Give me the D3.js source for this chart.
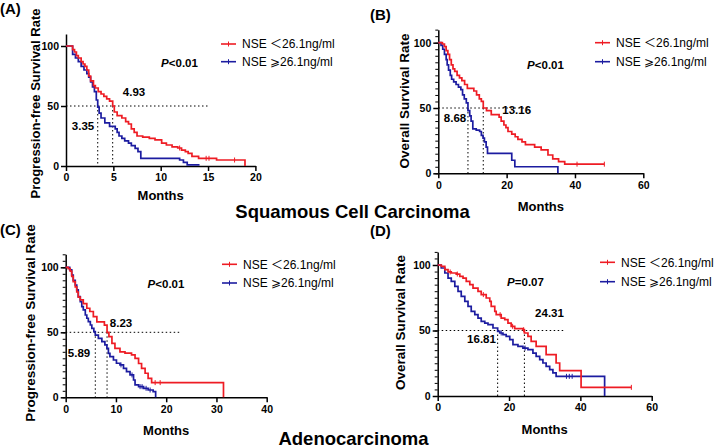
<!DOCTYPE html>
<html><head><meta charset="utf-8">
<script src="https://cdn.jsdelivr.net/npm/d3@7"></script>
<style>
html,body{margin:0;padding:0;background:#fff;}
svg{display:block;}
text{font-family:"Liberation Sans",Arial,"Noto Sans CJK SC",sans-serif;fill:#000;}
</style></head><body>
<svg id="chart" width="720" height="448"></svg>
<script>
// ---------- data ----------
const seriesNames = ["NSE \uFF1C26.1ng/ml", "NSE \u2A7E26.1ng/ml"];
const panelLetters = ["(A)", "(B)", "(C)", "(D)"];
const yTitles = ["Progression-free Survival Rate", "Overall Survival Rate", "Progression-free Survival Rate", "Overall Survival Rate"];
const xTitle = "Months";
const pLabels = [["P", "<0.01"], ["P", "<0.01"], ["P", "<0.01"], ["P", "=0.07"]];
const groupTitles = ["Squamous Cell Carcinoma", "Adenocarcinoma"];
const xTicksA = [0, 5, 10, 15, 20];
const xTicksB = [0, 20, 40, 60];
const xTicksC = [0, 10, 20, 30, 40];
const xTicksD = [0, 20, 40, 60];
const yTicks = [0, 50, 100];
const mediansA = [3.35, 4.93];
const mediansB = [8.68, 13.16];
const mediansC = [5.89, 8.23];
const mediansD = [16.81, 24.31];
const medianRefEnd = [15, 26.8, 22.7, 35.4];

// steps: [month, survival % after drop]; *End = last follow-up time
const aLow = [[0.7,97],[0.9,95],[1.1,92],[1.3,90],[1.6,87],[1.8,85],[2.0,83],[2.2,80],[2.4,75],[2.6,71],[2.9,67],[3.1,65],[3.4,62],[3.7,60],[4.0,58],[4.3,56],[4.6,54],[4.93,50],[5.1,45],[5.4,42],[5.9,40],[6.3,37],[6.6,35],[6.9,31],[7.2,28],[7.5,25],[8.1,24],[8.8,23],[9.4,21.7],[10.1,19],[10.6,17.5],[11.2,16],[11.8,15],[12.2,13.3],[12.6,12],[12.9,10.6],[13.3,8],[14.0,6.4],[15.9,5],[18.9,0]];
const aLowEnd = 18.9;
const aLowCensor = [12.0, 14.8, 15.1, 17.8];
const aHigh = [[0.7,93],[1.0,90],[1.3,87],[1.6,83],[1.9,80],[2.2,77],[2.4,74],[2.6,70],[2.8,66],[3.0,62],[3.2,55],[3.35,49],[3.5,44],[3.7,40],[4.1,36],[4.6,33],[5.2,31],[5.4,28],[5.6,25],[5.9,23],[6.2,21],[6.6,19],[6.9,17],[7.3,14.7],[7.6,12],[7.9,6.4],[12.0,5],[12.4,3],[12.8,1]];
const aHighEnd = 14.1;
const aHighCensor = [];

const bLow = [[1.2,99],[1.8,97],[2.3,94],[2.8,91],[3.3,87],[3.8,83],[4.3,80],[4.8,78],[5.5,75],[6.2,73],[6.9,71],[7.7,68],[8.5,65],[10.4,63],[11.2,60],[12.0,57],[12.6,55],[13.16,50],[14.1,48],[15.5,45],[17.8,43],[18.4,40],[19.2,37],[19.8,35],[20.4,32],[21.5,30],[22.5,28],[23.3,26],[24.5,24],[25.5,22],[28.2,20],[30.1,18],[32.1,14],[33.5,11],[35.2,9],[37.0,7]];
const bLowEnd = 48.6;
const bLowCensor = [40.6, 48.6];
const bHigh = [[0.8,98],[1.3,95],[1.8,91],[2.3,87],[2.6,83],[3.0,79],[3.5,75],[3.9,72],[4.5,70],[5.2,68],[5.9,66],[6.6,64],[7.1,60],[7.6,57],[8.2,54],[8.68,48],[9.2,44],[9.6,40],[10.1,34],[11.1,33],[12.1,32],[12.6,29],[13.1,27],[13.5,24],[14.0,20],[14.4,15.3],[21.5,10],[22.4,5],[35,0]];
const bHighEnd = 35;
const bHighCensor = [];

const cLow = [[0.5,99],[0.9,97],[1.2,93],[1.5,89],[1.9,85],[2.2,81],[2.5,77],[2.9,75],[3.5,72],[4.2,68.5],[4.8,66],[5.5,62],[6.2,58],[7.7,55.5],[8.23,50],[8.6,46.7],[9.2,41.5],[9.8,37.7],[10.8,35],[11.8,34],[13.1,32.6],[13.8,30],[14.5,26],[15.1,22.3],[15.8,18.5],[16.4,14.6],[17.1,11.3],[31.4,0]];
const cLowEnd = 31.4;
const cLowCensor = [17.8, 18.8];
const cHigh = [[0.8,98],[1.2,94],[1.5,90],[1.9,86.4],[2.2,82.6],[2.5,77.4],[2.9,73.6],[3.2,69.7],[3.5,67.2],[3.9,63.3],[4.2,60.8],[4.5,58.2],[4.9,55.6],[5.2,53],[5.6,50.5],[5.89,47.9],[6.5,45.4],[7.2,42.8],[7.8,40.3],[8.2,37.7],[8.5,33.8],[8.8,31.3],[9.5,28.7],[10.1,26.2],[10.8,24.9],[11.5,22.3],[12.1,19.7],[12.8,17.2],[13.5,13.3],[13.8,9.5],[14.5,8.2],[15.5,6.9],[16.4,5.6],[17.4,4.4],[17.9,0]];
const cHighEnd = 17.9;
const cHighCensor = [11.0, 13.2, 14.8, 15.2, 16.0, 16.8];

const dLow = [[1.0,99],[2.0,96.4],[2.9,94.7],[3.8,93.9],[5.2,93.1],[6.2,91.3],[7.1,90],[8.0,87.5],[9.0,85],[9.9,82.4],[11.3,79.9],[12.2,77.4],[13.6,74.8],[14.6,72.3],[15.0,68.4],[16.0,64.6],[16.4,62.1],[17.8,59.5],[18.8,58.3],[19.7,55.7],[20.6,53.2],[21.6,51.4],[23.9,50.6],[24.31,48.1],[25.3,45.5],[26.2,41.7],[27.6,37.9],[30.4,31.6],[33.2,25.2],[34.2,19.3],[40.2,6.6]];
const dLowEnd = 54.3;
const dLowCensor = [3.5, 5.5, 12.8, 17.5, 21.0, 24.1, 54.3];
const dHigh = [[1.0,97.7],[2.0,93.9],[2.9,90],[3.8,87.5],[4.8,83.7],[5.7,79.9],[6.6,76.1],[7.6,72.3],[8.5,68.4],[9.4,64.6],[10.4,62.1],[11.3,59.5],[12.2,57],[13.2,55.7],[14.1,54.5],[15.5,51.9],[16.81,49.4],[17.4,48.1],[18.3,46.8],[19.2,45.5],[20.2,43],[21.1,39.2],[22.5,37.9],[23.9,36.6],[25.3,35.4],[26.7,32.8],[27.6,30.3],[28.6,27.7],[29.5,25.2],[30.4,22.6],[31.4,20.1],[32.3,17.6],[33.2,15],[46.8,0]];
const dHighEnd = 46.8;
const dHighCensor = [17.8, 24.5, 36.1, 36.9, 37.7];

// ---------- layout (pixels) ----------
const RED = "#ee1c24", BLUE = "#1c1ca0";
const layout = [
  {x0:66, x1:255.4, y0:166, y100:46, minor:false, xTicks:xTicksA, xMax:20, low:aLow, lowEnd:aLowEnd, lowC:aLowCensor, high:aHigh, highEnd:aHighEnd, highC:aHighCensor, med:mediansA,
   letter:[0,13.5], ytitle:[35,103.5,13], xtitleY:200, p:[179.5,62.5], legX:221, legY:[44,61.7], medLbl:[[83,125.5],[134,91.5]]},
  {x0:438.3, x1:643.3, y0:173.3, y100:42.7, minor:true, xTicks:xTicksB, xMax:60, low:bLow, lowEnd:bLowEnd, lowC:bLowCensor, high:bHigh, highEnd:bHighEnd, highC:bHighCensor, med:mediansB,
   letter:[370,19.5], ytitle:[404,101,13.5], xtitleY:211, p:[545.5,65], legX:595, legY:[42.7,61.7], medLbl:[[455,118],[516.7,109.7]]},
  {x0:65.7, x1:266.7, y0:397.3, y100:267.3, minor:true, xTicks:xTicksC, xMax:40, low:cLow, lowEnd:cLowEnd, lowC:cLowCensor, high:cHigh, highEnd:cHighEnd, highC:cHighCensor, med:mediansC,
   letter:[0,234.5], ytitle:[30,323,13.5], xtitleY:435, p:[166,284], legX:222, legY:[264.3,283], medLbl:[[79,353],[121,323]]},
  {x0:437.7, x1:651.7, y0:396, y100:265, minor:true, xTicks:xTicksD, xMax:60, low:dLow, lowEnd:dLowEnd, lowC:dLowCensor, high:dHigh, highEnd:dHighEnd, highC:dHighCensor, med:mediansD,
   letter:[370,235.5], ytitle:[400,322.5,13.5], xtitleY:434, p:[525.5,281.7], legX:600, legY:[262.3,281.7], medLbl:[[481.5,338.5],[549.5,312.5]]}
];

const svg = d3.select("#chart");

function kmPath(steps, endT, x, y) {
  let d = `M${x(0)},${y(100)}`;
  steps.forEach(([t, s]) => { d += `H${x(t)}V${y(s)}`; });
  const lastT = steps[steps.length - 1][0];
  if (endT > lastT) d += `H${x(endT)}`;
  return d;
}
function survAt(steps, t) {
  let s = 100;
  for (const [tt, ss] of steps) { if (tt <= t) s = ss; else break; }
  return s;
}

layout.forEach((L, i) => {
  const g = svg.append("g");
  const x = d3.scaleLinear().domain([0, L.xMax]).range([L.x0, L.x1]);
  const y = d3.scaleLinear().domain([0, 100]).range([L.y0, L.y100]);
  const yAx = d3.scaleLinear().domain([0, 110]).range([L.y0, y(110)]);

  if (L.minor) {
    g.append("g").attr("transform", `translate(${L.x0},0)`)
      .call(d3.axisLeft(yAx).tickValues(d3.range(0, 111, 5)).tickFormat("").tickSize(3).tickSizeOuter(0))
      .call(a => a.select(".domain").remove())
      .call(a => a.selectAll("line").attr("stroke", "#000").attr("stroke-width", 1));
  }
  g.append("g").attr("transform", `translate(${L.x0},0)`)
    .call(d3.axisLeft(yAx).tickValues(yTicks).tickSize(5).tickSizeOuter(0).tickPadding(2))
    .call(a => a.select(".domain").attr("stroke", "#000").attr("stroke-width", 1.5))
    .call(a => a.selectAll(".tick line").attr("stroke", "#000").attr("stroke-width", 1.5))
    .call(a => a.selectAll("text").attr("font-size", 10.5).attr("font-weight", "bold").attr("fill", "#000")
      .attr("font-family", '"Liberation Sans",Arial,sans-serif'));
  g.append("g").attr("transform", `translate(0,${L.y0})`)
    .call(d3.axisBottom(x).tickValues(L.xTicks).tickSize(5).tickSizeOuter(0).tickPadding(3))
    .call(a => a.select(".domain").attr("stroke", "#000").attr("stroke-width", 1.5))
    .call(a => a.selectAll(".tick line").attr("stroke", "#000").attr("stroke-width", 1.5))
    .call(a => a.selectAll("text").attr("font-size", 10.5).attr("font-weight", "bold").attr("fill", "#000")
      .attr("font-family", '"Liberation Sans",Arial,sans-serif'));

  const dot = {"stroke": "#000", "stroke-width": 1, "stroke-dasharray": "1.5,2.5", "fill": "none"};
  const hl = g.append("line").attr("x1", x(0)).attr("x2", x(medianRefEnd[i])).attr("y1", y(50)).attr("y2", y(50));
  Object.entries(dot).forEach(([k, v]) => hl.attr(k, v));
  L.med.forEach(m => {
    const vl = g.append("line").attr("x1", x(m)).attr("x2", x(m)).attr("y1", y(50)).attr("y2", y(0));
    Object.entries(dot).forEach(([k, v]) => vl.attr(k, v));
  });

  [[L.high, L.highEnd, L.highC, BLUE], [L.low, L.lowEnd, L.lowC, RED]].forEach(([steps, endT, cens, col]) => {
    g.append("path").attr("d", kmPath(steps, endT, x, y)).attr("fill", "none")
      .attr("stroke", col).attr("stroke-width", 1.7);
    g.selectAll(null).data(cens).enter().append("line")
      .attr("x1", d => x(d)).attr("x2", d => x(d))
      .attr("y1", d => y(survAt(steps, d)) - 2.5).attr("y2", d => y(survAt(steps, d)) + 2.5)
      .attr("stroke", col).attr("stroke-width", 1);
  });

  L.med.forEach((m, k) => {
    g.append("text").attr("x", L.medLbl[k][0]).attr("y", L.medLbl[k][1]).attr("dy", "0.35em")
      .attr("text-anchor", "middle").attr("font-size", 11.5).attr("font-weight", "bold").text(m.toFixed(2));
  });

  const pt = g.append("text").attr("x", L.p[0]).attr("y", L.p[1]).attr("dy", "0.35em")
    .attr("text-anchor", "middle").attr("font-size", 11.5).attr("font-weight", "bold");
  pt.append("tspan").attr("font-style", "italic").text(pLabels[i][0]);
  pt.append("tspan").text(pLabels[i][1]);

  [RED, BLUE].forEach((col, k) => {
    const ly = L.legY[k];
    g.append("line").attr("x1", L.legX).attr("x2", L.legX + 15).attr("y1", ly).attr("y2", ly)
      .attr("stroke", col).attr("stroke-width", 1.6);
    g.append("line").attr("x1", L.legX + 7.5).attr("x2", L.legX + 7.5).attr("y1", ly - 2.5).attr("y2", ly + 2.5)
      .attr("stroke", col).attr("stroke-width", 1);
    g.append("text").attr("x", L.legX + 21).attr("y", ly).attr("dy", "0.36em")
      .attr("font-size", 12).text(seriesNames[k]);
  });

  g.append("text").attr("transform", `translate(${L.ytitle[0]},${L.ytitle[1]}) rotate(-90)`)
    .attr("dy", "0.36em").attr("text-anchor", "middle").attr("font-size", L.ytitle[2])
    .attr("font-weight", "bold").text(yTitles[i]);
  g.append("text").attr("x", (L.x0 + L.x1) / 2).attr("y", L.xtitleY)
    .attr("text-anchor", "middle").attr("font-size", 13).attr("font-weight", "bold").text(xTitle);
  g.append("text").attr("x", L.letter[0]).attr("y", L.letter[1])
    .attr("font-size", 15).attr("font-weight", "bold").text(panelLetters[i]);
});

const gt = [[352.5, 218], [353.5, 445]];
groupTitles.forEach((t, k) => {
  svg.append("text").attr("x", gt[k][0]).attr("y", gt[k][1]).attr("text-anchor", "middle")
    .attr("font-family", '"Open Sans","Noto Sans",sans-serif').attr("font-weight", 600)
    .attr("font-size", 18.5).text(t);
});
</script>
</body></html>
